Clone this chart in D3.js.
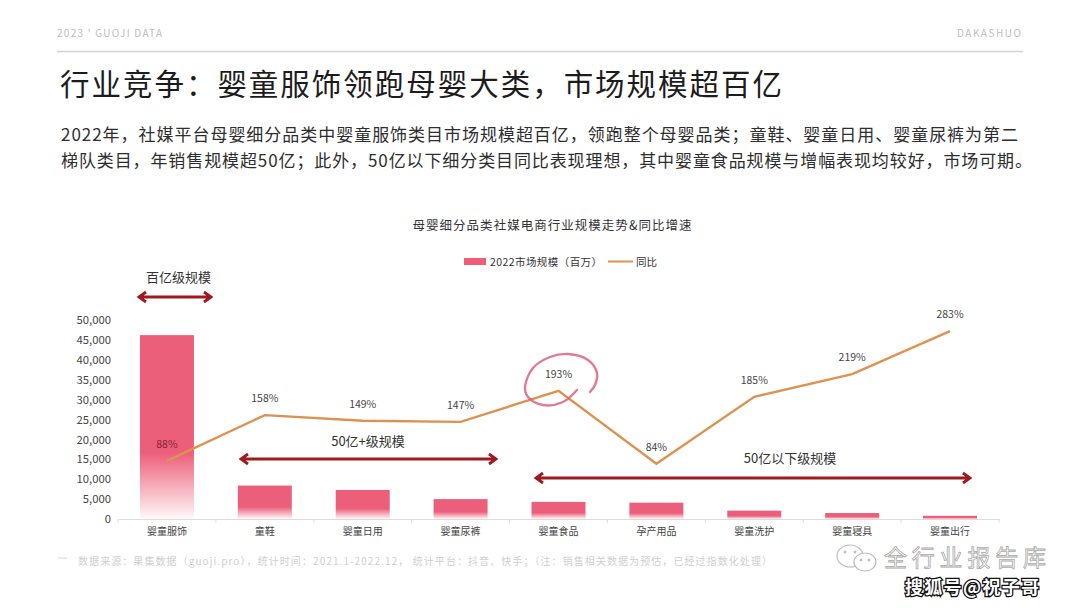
<!DOCTYPE html>
<html><head><meta charset="utf-8">
<script src="https://cdn.jsdelivr.net/npm/d3@7"></script>
<style>
html,body{margin:0;padding:0;background:#fff;overflow:hidden}
svg{display:block}
text{font-family:"Noto Sans CJK SC","Noto Sans",sans-serif}
</style></head><body><svg id="c" width="1080" height="608"></svg>
<script>
const categories=["婴童服饰","童鞋","婴童日用","婴童尿裤","婴童食品","孕产用品","婴童洗护","婴童寝具","婴童出行"];
const marketSize=[46200,8400,7300,5000,4300,4100,2100,1500,800];
const lineLevel=[14600,26100,24700,24400,32200,13900,30700,36400,47200];
const yoyLabels=["88%","158%","149%","147%","193%","84%","185%","219%","283%"];
const yTicks=[0,5000,10000,15000,20000,25000,30000,35000,40000,45000,50000];
const bodyLines=["2022年，社媒平台母婴细分品类中婴童服饰类目市场规模超百亿，领跑整个母婴品类；童鞋、婴童日用、婴童尿裤为第二","梯队类目，年销售规模超50亿；此外，50亿以下细分类目同比表现理想，其中婴童食品规模与增幅表现均较好，市场可期。"];

const svg=d3.select("#c");
const x=d3.scaleBand().domain(categories).range([118,999]);
const y=d3.scaleLinear().domain([0,50000]).range([519,320]);
const PINK="#ec5f7a",ORANGE="#de9250",RED="#9e1a1e";

function txt(s,px,py,o={}){
  const t=svg.append("text").text(s).attr("x",px).attr("y",py-1.5).attr("dominant-baseline","central")
    .attr("fill",o.fill||"#333").attr("font-size",o.size||12).attr("text-anchor",o.anchor||"start");
  if(o.len)t.attr("textLength",o.len).attr("lengthAdjust","spacing");
  return t;
}
// header
txt("2023 ꞌ GUOJI DATA",57,34,{fill:"#bdbdbd",size:10,len:105});
txt("DAKASHUO",957,34,{fill:"#bdbdbd",size:10,len:64});
svg.append("line").attr("x1",57).attr("x2",1023).attr("y1",51.5).attr("y2",51.5).attr("stroke","#dccfd2").attr("stroke-width",1.4);
txt("行业竞争：婴童服饰领跑母婴大类，市场规模超百亿",60,83,{fill:"#1c1c1c",size:29.5,len:722});
txt(bodyLines[0],61,135,{fill:"#2e2e2e",size:17,len:957});
txt(bodyLines[1],61,161,{fill:"#2e2e2e",size:17,len:971});
// chart title and legend
txt("母婴细分品类社媒电商行业规模走势&同比增速",552,225.5,{fill:"#333",size:12.5,anchor:"middle",len:279});
svg.append("rect").attr("x",464).attr("y",258).attr("width",22).attr("height",7).attr("fill",PINK);
txt("2022市场规模（百万）",490,262.5,{size:10.5,fill:"#333",len:112});
svg.append("line").attr("x1",608).attr("x2",633).attr("y1",261.5).attr("y2",261.5).attr("stroke",ORANGE).attr("stroke-width",2);
txt("同比",636,262.5,{size:10.5,fill:"#333"});

// gradient: solid, then fading out over the lower part of each bar
const g=svg.append("defs").append("linearGradient").attr("id","barFade").attr("x1",0).attr("x2",0).attr("y1",0).attr("y2",1);
g.append("stop").attr("offset",.64).attr("stop-color",PINK);
g.append("stop").attr("offset",1).attr("stop-color",PINK).attr("stop-opacity",0.04);
const barW=54;
svg.append("g").selectAll("rect").data(categories).join("rect")
  .attr("x",d=>x(d)+x.bandwidth()/2-barW/2)
  .attr("width",barW)
  .attr("y",(d,i)=>y(marketSize[i]))
  .attr("height",(d,i)=>y(0)-y(marketSize[i]))
  .attr("fill","url(#barFade)");

// axes
const gy=svg.append("g").attr("transform","translate(111,0)")
  .call(d3.axisLeft(y).tickValues(yTicks).tickFormat(d3.format(",")).tickSize(0).tickPadding(0));
gy.select(".domain").remove();
gy.selectAll("text").attr("font-size",11.3).attr("fill","#444").attr("font-family","'Noto Sans',sans-serif");
const gx=svg.append("g").attr("transform",`translate(0,${y(0)})`)
  .call(d3.axisBottom(x).tickSize(0).tickPadding(9));
gx.select(".domain").attr("stroke","#dcdcdc");
gx.selectAll("text").attr("font-size",10).attr("fill","#444");
gx.selectAll("line.edge").data(d3.range(categories.length+1)).join("line").attr("class","edge")
  .attr("x1",i=>x.range()[0]+i*x.step()).attr("x2",i=>x.range()[0]+i*x.step())
  .attr("y1",0).attr("y2",4).attr("stroke","#dcdcdc");

// line
const lineGen=d3.line().x((d,i)=>x(categories[i])+x.bandwidth()/2).y(d=>y(d));
svg.append("path").attr("d",lineGen(lineLevel)).attr("fill","none").attr("stroke",ORANGE)
  .attr("stroke-width",2.4).attr("stroke-linejoin","miter");
svg.append("g").selectAll("text").data(yoyLabels).join("text").text(d=>d)
  .attr("x",(d,i)=>x(categories[i])+x.bandwidth()/2)
  .attr("y",(d,i)=>y(lineLevel[i])-17.5)
  .attr("text-anchor","middle").attr("dominant-baseline","central")
  .attr("font-size",10.5).attr("font-family","'Noto Sans',sans-serif")
  .attr("fill",d=>d==="88%"?"#8c2036":"#444");

// range annotations
function arrow(x1,x2,py){
  svg.append("path").attr("fill","none").attr("stroke",RED).attr("stroke-width",2.8)
    .attr("d",`M${x1+1},${py}H${x2-1}M${x1+8},${py-5}L${x1+1},${py}L${x1+8},${py+5}M${x2-8},${py-5}L${x2-1},${py}L${x2-8},${py+5}`);
}
arrow(138,212,297);arrow(240,497,459);arrow(535,971,478);
txt("百亿级规模",178.5,277.5,{size:13,anchor:"middle",fill:"#333"});
txt("50亿+级规模",368,441.5,{size:13,anchor:"middle",fill:"#333"});
txt("50亿以下级规模",790,458.5,{size:13,anchor:"middle",fill:"#333"});

// hand-drawn ring around the peak label
const ring=[[577,390],[563,402],[543,405],[528,397],[525,387],[533,368],[550,357],[568,354],[588,360],[597,373],[595,385],[590,392]];
svg.append("path").attr("d",d3.line().curve(d3.curveCatmullRom)(ring)).attr("fill","none")
  .attr("stroke","#d9647f").attr("stroke-width",2.4).attr("stroke-linecap","round").attr("opacity",.85);

// footnote
svg.append("line").attr("x1",58).attr("x2",67).attr("y1",558).attr("y2",558).attr("stroke","#d5d5d5");
txt("数据来源：果集数据（guoji.pro），统计时间：2021.1-2022.12， 统计平台：抖音、快手；（注：销售相关数据为预估，已经过指数化处理）",78,561.5,{size:10,fill:"#cfcfcf",len:694});

// watermark
const wm=svg.append("g").attr("fill","none").attr("stroke","#bdbdbd").attr("stroke-width",1.2);
wm.append("ellipse").attr("cx",850).attr("cy",556).attr("rx",13).attr("ry",11);
wm.append("ellipse").attr("cx",865).attr("cy",562).attr("rx",11).attr("ry",9).attr("fill","#fff");
[[845,552],[855,552],[861,560],[869,560]].forEach(p=>wm.append("circle").attr("cx",p[0]).attr("cy",p[1]).attr("r",.9).attr("fill","#bdbdbd"));
txt("全行业报告库",884,557,{size:23,fill:"#fff",len:162}).attr("stroke","#a9a9a9").attr("stroke-width",.8);
txt("搜狐号@祝子哥",905,587,{size:18,fill:"#fff",len:134}).attr("stroke","#111").attr("stroke-width",2.6).attr("paint-order","stroke").attr("font-weight",700);
</script></body></html>
